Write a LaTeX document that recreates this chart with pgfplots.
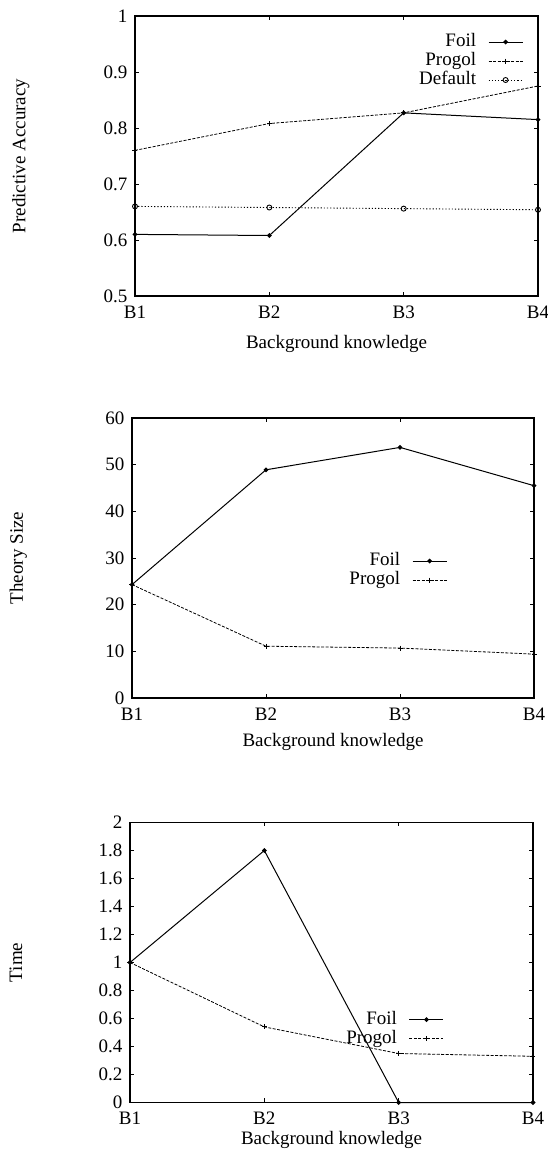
\documentclass[border=0pt]{standalone}
\usepackage{fontspec}
\setmainfont{Liberation Serif}
\usepackage{pgfplots}
\pgfplotsset{compat=1.18}
\newcommand{\ff}{\fontsize{19}{22}\selectfont}
\pgfplotsset{
 myax/.style={
  scale only axis, width=403pt, height=280pt,
  anchor=south west,
  tick label style={font=\ff},
  label style={font=\ff},
  /pgf/number format/assume math mode=true,
  xmin=0,xmax=3, xtick={0,1,2,3}, xticklabels={B1,B2,B3,B4},
  tick align=inside, major tick length=4pt,
  axis line style={line width=1.3pt},
  every tick/.style={black, line width=0.8pt},
  xticklabel style={yshift=-6pt},
  yticklabel style={xshift=-4pt},
  xlabel={Background knowledge},
  legend plot pos=right, legend cell align=right,
  legend style={font=\ff, draw=none, fill=none, inner sep=0pt, outer sep=0pt, anchor=north east,
    nodes={inner sep=0pt, text height=14pt, text depth=5pt}, /tikz/column sep=12pt},
  legend image code/.code={\draw[mark repeat=2,mark phase=2] plot coordinates {(0pt,0pt) (17pt,0pt) (34pt,0pt)};},
  clip=false,
 },
 foil/.style={black, line width=1pt, mark=*, mark size=1.8pt, mark options={solid}},
 progol/.style={black, line width=0.8pt, dash pattern=on 3pt off 1.5pt, mark=+, mark size=2.5pt, mark options={solid}},
 default/.style={black, line width=0.9pt, dash pattern=on 1.2pt off 2pt, mark=o, mark size=2.5pt, mark options={solid}},
}
\begin{document}
\begin{tikzpicture}
\useasboundingbox (0pt,0pt) rectangle (548pt,1152pt);
% Plot 1
\begin{axis}[myax, at={(135pt,856pt)},
  ymin=0.5, ymax=1, ytick={0.5,0.6,0.7,0.8,0.9,1},
  ylabel={Predictive Accuracy},
  ylabel style={at={(axis description cs:-0.283,0.5)}, anchor=center},
  xlabel style={at={(axis description cs:0.5,0)}, anchor=center, yshift=-48pt},
  legend style={at={(rel axis cs:0.963,0.941)}}]
\addplot[foil] coordinates {(0,0.61) (1,0.608) (2,0.827) (3,0.815)};
\addlegendentry{Foil}
\addplot[progol] coordinates {(0,0.76) (1,0.808) (2,0.827) (3,0.875)};
\addlegendentry{Progol}
\addplot[default] coordinates {(0,0.66) (1,0.658) (2,0.656) (3,0.654)};
\addlegendentry{Default}
\end{axis}
% Plot 2
\begin{axis}[myax, at={(132pt,454pt)}, width=402pt,
  ymin=0, ymax=60, ytick={0,10,20,30,40,50,60},
  ylabel={Theory Size},
  ylabel style={at={(axis description cs:-0.283,0.5)}, anchor=center},
  xlabel style={at={(axis description cs:0.5,0)}, anchor=center, yshift=-44pt},
  legend style={at={(rel axis cs:0.784,0.523)}}]
\addplot[foil] coordinates {(0,24.3) (1,48.9) (2,53.7) (3,45.5)};
\addlegendentry{Foil}
\addplot[progol] coordinates {(0,24.3) (1,11.1) (2,10.7) (3,9.4)};
\addlegendentry{Progol}
\end{axis}
% Plot 3
\begin{axis}[myax, at={(130pt,49.5pt)},
  ymin=0, ymax=2, ytick={0,0.2,0.4,0.6,0.8,1,1.2,1.4,1.6,1.8,2},
  ylabel={Time},
  ylabel style={at={(axis description cs:-0.283,0.5)}, anchor=center},
  xlabel style={at={(axis description cs:0.5,0)}, anchor=center, yshift=-37pt},
  legend style={at={(rel axis cs:0.779,0.330)}}]
\addplot[foil] coordinates {(0,1) (1,1.8) (2,0) (3,0)};
\addlegendentry{Foil}
\addplot[progol] coordinates {(0,1.0) (1,0.54) (2,0.35) (3,0.33)};
\addlegendentry{Progol}
\end{axis}
\end{tikzpicture}
\end{document}
